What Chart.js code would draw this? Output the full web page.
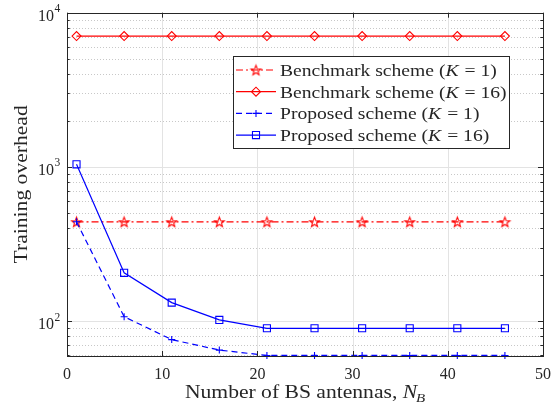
<!DOCTYPE html>
<html>
<head>
<meta charset="utf-8">
<script src="https://cdn.jsdelivr.net/npm/chart.js@4.4.0/dist/chart.umd.min.js"></script>
<style>
  body { margin: 0; background: #fff; }
  #wrap { width: 553px; height: 407px; }
</style>
</head>
<body>
<div id="wrap"><canvas id="overhead"></canvas></div>
<script>
// number of BS antennas N_B
var antennas = [1, 6, 11, 16, 21, 26, 31, 36, 41, 46];
// training overhead per scheme
var benchK1 = [441, 441, 441, 441, 441, 441, 441, 441, 441, 441];
var benchK16 = [7056, 7056, 7056, 7056, 7056, 7056, 7056, 7056, 7056, 7056];
var propK1 = [441, 107, 76, 65, 60, 60, 60, 60, 60, 60];
var propK16 = [1040, 206, 132, 102, 90, 90, 90, 90, 90, 90];

var xTicks = [0, 10, 20, 30, 40, 50];
var yDecades = [100, 1000, 10000];
var yMinor = [60, 70, 80, 90, 200, 300, 400, 500, 600, 700, 800, 900,
              2000, 3000, 4000, 5000, 6000, 7000, 8000, 9000];

var ink = '#262626';
var serif = '"Liberation Serif", "DejaVu Serif", serif';

// open five-pointed star, like MATLAB's 'p' marker
function pentagram(R, color) {
  var c = document.createElement('canvas');
  var s = Math.ceil(R * 2 + 4);
  c.width = s; c.height = s;
  var g = c.getContext('2d');
  g.strokeStyle = color;
  g.lineWidth = 1.1;
  g.beginPath();
  for (var i = 0; i < 10; i++) {
    var r = i % 2 ? R * 0.42 : R;
    var a = -Math.PI / 2 + i * Math.PI / 5;
    var px = s / 2 + r * Math.cos(a), py = s / 2 + 0.6 + r * Math.sin(a);
    if (i === 0) g.moveTo(px, py); else g.lineTo(px, py);
  }
  g.closePath();
  g.stroke();
  return c;
}

function pts(ys) {
  return antennas.map(function (x, i) { return {x: x, y: ys[i]}; });
}

var series = [
  {label: ['Benchmark scheme (', 'K', ' = 1)'], data: benchK1, color: '#ff0000',
   dash: [7, 3, 2, 3], marker: pentagram(5.2, '#ff0000'), radius: 5, order: 4},
  {label: ['Benchmark scheme (', 'K', ' = 16)'], data: benchK16, color: '#ff0000',
   dash: [], marker: 'rectRot', radius: 4.5, order: 3},
  {label: ['Proposed scheme (', 'K', ' = 1)'], data: propK1, color: '#0000ff',
   dash: [6, 4], marker: 'cross', radius: 3.5, order: 2},
  {label: ['Proposed scheme (', 'K', ' = 16)'], data: propK16, color: '#0000ff',
   dash: [], marker: 'rect', radius: 5, order: 1}
];

var datasets = series.map(function (s) {
  return {
    label: s.label.join(''),
    data: pts(s.data),
    borderColor: s.color,
    backgroundColor: 'rgba(0,0,0,0)',
    borderWidth: 1.2,
    borderDash: s.dash,
    pointStyle: s.marker,
    pointRadius: s.radius,
    pointBorderColor: s.color,
    pointBackgroundColor: 'rgba(0,0,0,0)',
    pointBorderWidth: 1.1,
    tension: 0,
    clip: false,
    order: s.order
  };
});

function drawMarker(ctx, s, x, y) {
  if (typeof s.marker !== 'string') {
    ctx.drawImage(s.marker, x - s.marker.width / 2, y - s.marker.height / 2);
    return;
  }
  ctx.save();
  ctx.strokeStyle = s.color;
  ctx.fillStyle = 'rgba(0,0,0,0)';
  ctx.lineWidth = 1.1;
  ctx.setLineDash([]);
  Chart.helpers.drawPoint(ctx, {pointStyle: s.marker, radius: s.radius, borderWidth: 1.1}, x, y);
  ctx.restore();
}

// text drawn a little wider than the serif face, closer to the TeX look
function wideText(ctx, parts, x, y, stretch, align) {
  var total = 0;
  parts.forEach(function (p) { ctx.font = p.font; total += ctx.measureText(p.text).width + (p.gap || 0); });
  var x0 = align === 'center' ? x - total * stretch / 2 : x;
  ctx.save();
  ctx.translate(x0, y);
  ctx.scale(stretch, 1);
  ctx.textAlign = 'left';
  var cx = 0;
  parts.forEach(function (p) {
    ctx.font = p.font;
    ctx.fillText(p.text, cx, p.dy || 0);
    cx += ctx.measureText(p.text).width + (p.gap || 0);
  });
  ctx.restore();
}

var frame = {
  id: 'frame',
  beforeDatasetsDraw: function (chart) {
    var ctx = chart.ctx, a = chart.chartArea, xs = chart.scales.x, ys = chart.scales.y;
    ctx.save();
    ctx.lineWidth = 1;
    // dotted minor grid
    ctx.strokeStyle = '#c8c8c8';
    ctx.setLineDash([1, 2]);
    yMinor.forEach(function (v) {
      var py = Math.round(ys.getPixelForValue(v)) + 0.5;
      ctx.beginPath(); ctx.moveTo(a.left, py); ctx.lineTo(a.right, py); ctx.stroke();
    });
    // solid major grid
    ctx.setLineDash([]);
    ctx.strokeStyle = '#e3e3e3';
    yDecades.forEach(function (v) {
      var py = Math.round(ys.getPixelForValue(v)) + 0.5;
      ctx.beginPath(); ctx.moveTo(a.left, py); ctx.lineTo(a.right, py); ctx.stroke();
    });
    xTicks.forEach(function (v) {
      var px = Math.round(xs.getPixelForValue(v)) + 0.5;
      ctx.beginPath(); ctx.moveTo(px, a.top); ctx.lineTo(px, a.bottom); ctx.stroke();
    });
    ctx.restore();
  },
  afterDatasetsDraw: function (chart) {
    var ctx = chart.ctx, a = chart.chartArea, xs = chart.scales.x, ys = chart.scales.y;
    ctx.save();
    ctx.strokeStyle = ink;
    ctx.lineWidth = 1;
    ctx.setLineDash([]);
    // inward tick marks on all four sides
    xTicks.forEach(function (v) {
      var px = Math.round(xs.getPixelForValue(v)) + 0.5;
      ctx.beginPath();
      ctx.moveTo(px, a.bottom); ctx.lineTo(px, a.bottom - 5);
      ctx.moveTo(px, a.top); ctx.lineTo(px, a.top + 5);
      ctx.stroke();
    });
    yDecades.concat(yMinor).forEach(function (v) {
      var py = Math.round(ys.getPixelForValue(v)) + 0.5;
      var len = yDecades.indexOf(v) >= 0 ? 5 : 2.7;
      ctx.beginPath();
      ctx.moveTo(a.left, py); ctx.lineTo(a.left + len, py);
      ctx.moveTo(a.right, py); ctx.lineTo(a.right - len, py);
      ctx.stroke();
    });
    ctx.strokeRect(Math.round(a.left) + 0.5, Math.round(a.top) + 0.5,
                   Math.round(a.right - a.left), Math.round(a.bottom - a.top));

    // decade labels 10^n
    ctx.fillStyle = ink;
    ctx.textBaseline = 'alphabetic';
    yDecades.forEach(function (v) {
      var py = ys.getPixelForValue(v);
      ctx.textAlign = 'right';
      ctx.font = '16px ' + serif;
      ctx.fillText('10', a.left - 13, py + 8);
      ctx.textAlign = 'left';
      ctx.font = '11.5px ' + serif;
      ctx.fillText(String(Math.round(Math.log10(v))), a.left - 12.5, py - 0.5);
    });

    // axis titles
    var title = '18px ' + serif;
    ctx.save();
    ctx.translate(27, (a.top + a.bottom) / 2);
    ctx.rotate(-Math.PI / 2);
    wideText(ctx, [{text: 'Training overhead', font: title}], 0, 0, 1.2, 'center');
    ctx.restore();
    wideText(ctx, [
      {text: 'Number of BS antennas, ', font: title},
      {text: 'N', font: 'italic ' + title, gap: -1},
      {text: 'B', font: 'italic 12.5px ' + serif, dy: 3.5}
    ], (a.left + a.right) / 2, 398, 1.2, 'center');

    // legend
    var L = 233.5, T = 56.5, W = 276, H = 92;
    ctx.fillStyle = '#ffffff';
    ctx.fillRect(L, T, W, H);
    ctx.strokeStyle = ink;
    ctx.strokeRect(L, T, W, H);
    series.forEach(function (s, i) {
      var ry = 70 + i * 21.7;
      ctx.strokeStyle = s.color;
      ctx.lineWidth = 1.2;
      ctx.setLineDash(s.dash);
      ctx.beginPath(); ctx.moveTo(236, ry); ctx.lineTo(276, ry); ctx.stroke();
      drawMarker(ctx, s, 256, ry);
      ctx.fillStyle = ink;
      var f = '17.5px ' + serif;
      wideText(ctx, [
        {text: s.label[0], font: f},
        {text: s.label[1], font: 'italic ' + f, gap: 1},
        {text: s.label[2], font: f}
      ], 280, ry + 6, 1.12, 'left');
    });
    ctx.restore();
  }
};

new Chart(document.getElementById('overhead'), {
  type: 'line',
  data: {datasets: datasets},
  options: {
    responsive: true,
    maintainAspectRatio: false,
    animation: false,
    layout: {padding: {top: 12.7, right: 10, left: 0, bottom: 0}},
    plugins: {legend: {display: false}, tooltip: {enabled: false}},
    scales: {
      x: {
        type: 'linear', min: 0, max: 50,
        afterBuildTicks: function (s) { s.ticks = xTicks.map(function (v) { return {value: v}; }); },
        afterFit: function (s) { s.height = 51; s.paddingLeft = 0; s.paddingRight = 0; },
        grid: {display: false, drawTicks: false}, border: {display: false},
        ticks: {color: ink, padding: 9, maxRotation: 0, font: {family: serif, size: 16}}
      },
      y: {
        type: 'logarithmic', min: 59.5, max: 10000,
        afterBuildTicks: function (s) {
          s.ticks = yDecades.concat(yMinor).sort(function (p, q) { return p - q; })
            .map(function (v) { return {value: v}; });
        },
        afterFit: function (s) { s.width = 67; s.paddingTop = 0; s.paddingBottom = 0; },
        grid: {display: false, drawTicks: false}, border: {display: false},
        ticks: {display: false}
      }
    }
  },
  plugins: [frame]
});
</script>
</body>
</html>
